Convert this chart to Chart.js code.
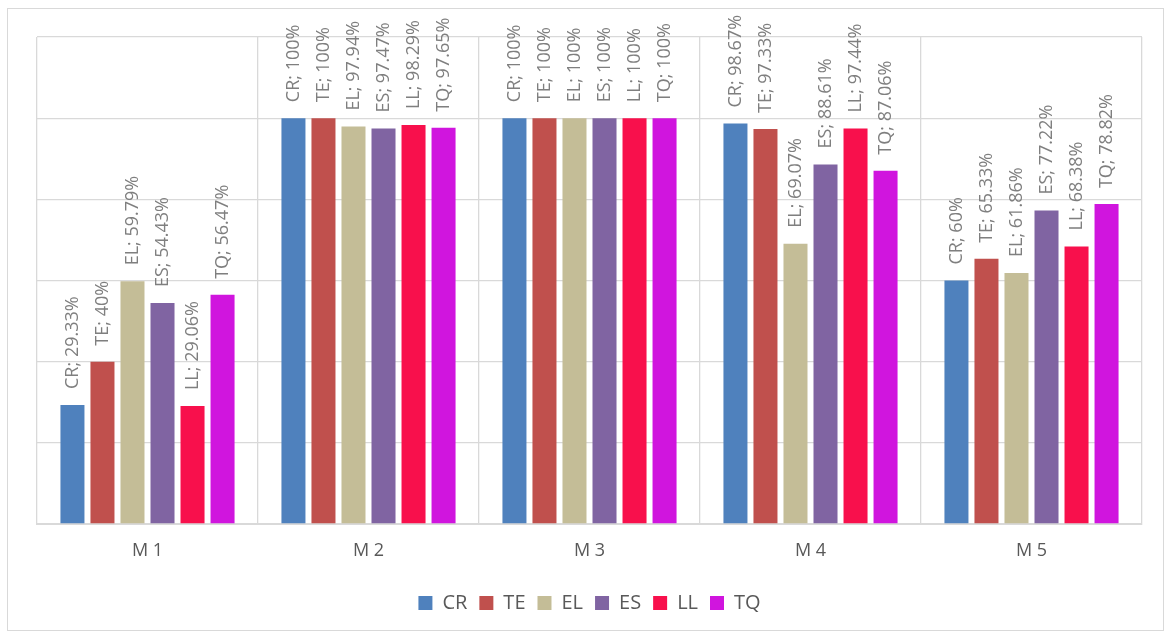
<!DOCTYPE html>
<html lang="en">

<head>
    <meta charset="UTF-8">
    <title>M1 - M5 results</title>
    <script src="https://cdn.jsdelivr.net/npm/chart.js"></script>
    <style>
        body { margin: 0; background: #ffffff; }
        .chart-box {
            position: absolute;
            left: 7px;
            top: 8px;
            width: 1155px;
            height: 621px;
            border: 1px solid #d9d9d9;
        }
    </style>
</head>

<body>
    <div class="chart-box">
        <canvas id="results"></canvas>
    </div>
    <script>
        const categories = ['M 1', 'M 2', 'M 3', 'M 4', 'M 5'];
        const seriesNames = ['CR', 'TE', 'EL', 'ES', 'LL', 'TQ'];
        const seriesColors = ['#4f81bd', '#c0504d', '#c4bd97', '#8064a2', '#f8104c', '#d015de'];

        const crValues = [29.33, 100, 100, 98.67, 60];
        const teValues = [40, 100, 100, 97.33, 65.33];
        const elValues = [59.79, 97.94, 100, 69.07, 61.86];
        const esValues = [54.43, 97.47, 100, 88.61, 77.22];
        const llValues = [29.06, 98.29, 100, 97.44, 68.38];
        const tqValues = [56.47, 97.65, 100, 87.06, 78.82];
        const seriesValues = [crValues, teValues, elValues, esValues, llValues, tqValues];

        // rotated "XX; 12.34%" text above every bar
        const barLabels = {
            id: 'barLabels',
            afterDatasetsDraw(chart) {
                const c = chart.ctx;
                c.save();
                c.font = '18px "Open Sans"';
                c.fillStyle = '#7f7f7f';
                c.textAlign = 'left';
                c.textBaseline = 'middle';
                chart.data.datasets.forEach((ds, i) => {
                    chart.getDatasetMeta(i).data.forEach((bar, j) => {
                        c.save();
                        c.translate(bar.x, bar.y - 16);
                        c.rotate(-Math.PI / 2);
                        c.fillText(ds.label + '; ' + ds.data[j] + '%', 0, 0);
                        c.restore();
                    });
                });
                c.restore();
            }
        };

        const ctx = document.getElementById('results').getContext('2d');
        const chart = new Chart(ctx, {
            type: 'bar',
            data: {
                labels: categories,
                datasets: seriesNames.map((name, i) => ({
                    label: name,
                    data: seriesValues[i],
                    backgroundColor: seriesColors[i],
                    borderWidth: 0,
                    barPercentage: 0.8,
                    categoryPercentage: 0.815
                }))
            },
            options: {
                responsive: true,
                maintainAspectRatio: false,
                animation: false,
                layout: {
                    padding: { left: 29, right: 21, top: 28, bottom: 7 }
                },
                scales: {
                    x: {
                        grid: { color: '#d9d9d9', lineWidth: 1.3, offset: true, drawTicks: false },
                        border: { color: '#d9d9d9', width: 2 },
                        ticks: {
                            color: '#595959',
                            font: { family: '"Open Sans"', size: 18 },
                            padding: 16
                        },
                        afterFit(scale) { scale.height = 57; }
                    },
                    y: {
                        min: 0,
                        max: 120,
                        ticks: { stepSize: 20, display: false },
                        grid: { color: '#d9d9d9', lineWidth: 1.3, drawTicks: false },
                        border: { display: false },
                        afterFit(scale) { scale.width = 0; }
                    }
                },
                plugins: {
                    legend: {
                        position: 'bottom',
                        labels: {
                            color: '#595959',
                            font: { family: '"Open Sans"', size: 20 },
                            boxWidth: 14,
                            boxHeight: 14,
                            padding: 12
                        }
                    },
                    tooltip: { enabled: false }
                }
            },
            plugins: [barLabels]
        });
    </script>
</body>

</html>
